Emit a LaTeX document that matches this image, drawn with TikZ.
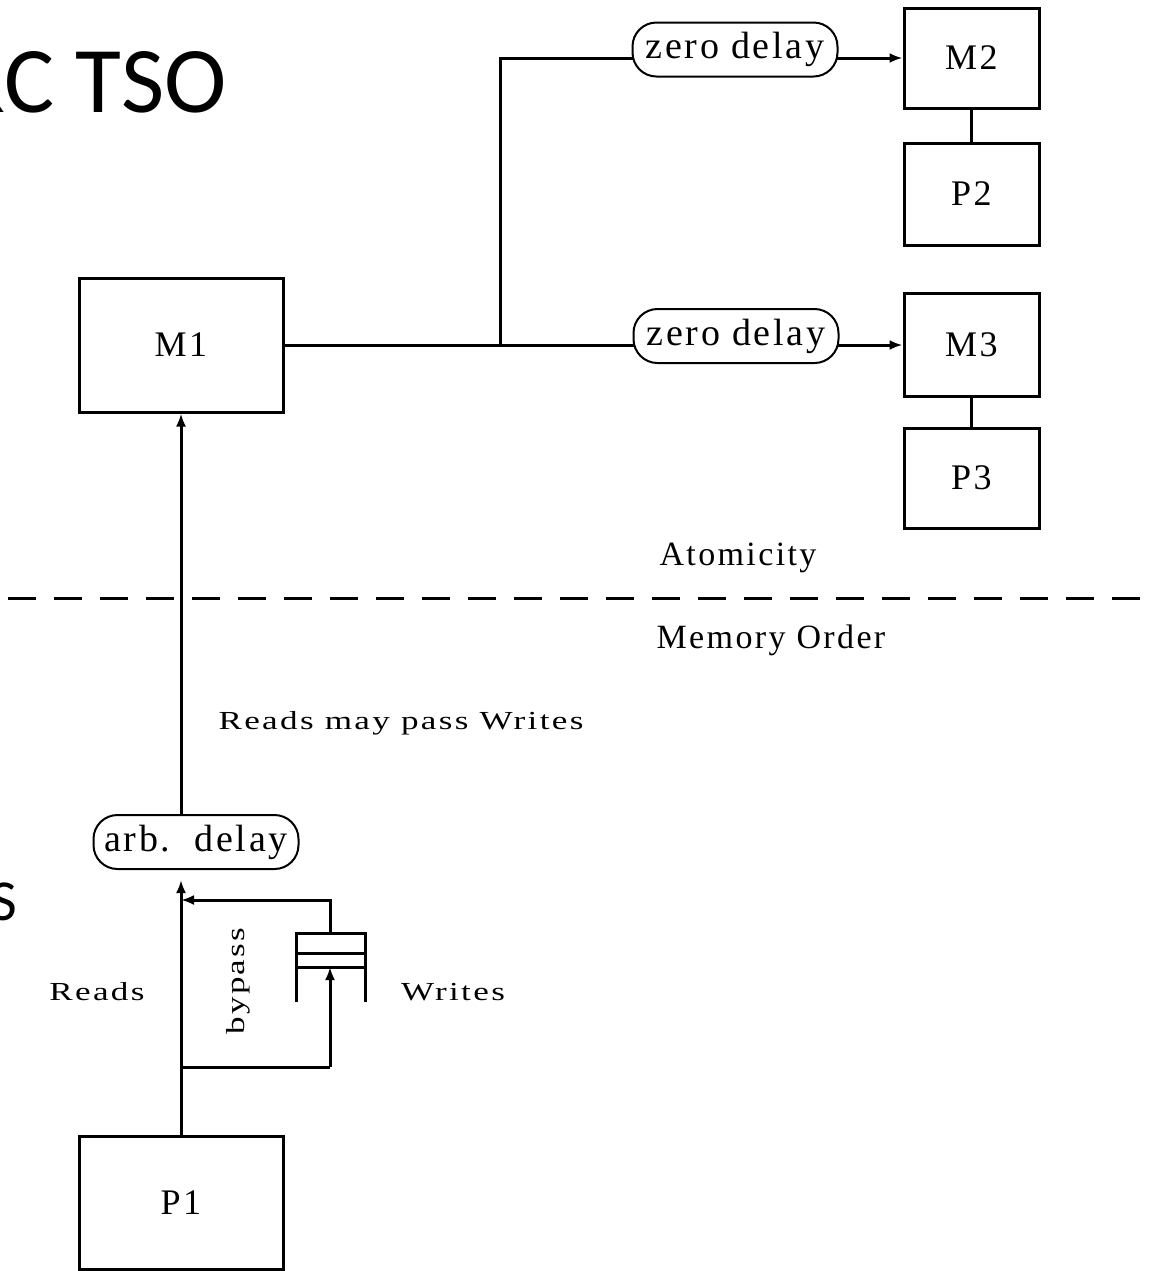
\documentclass[tikz,border=0pt]{standalone}
\usepackage{fontspec}
\setmainfont{Liberation Serif}
\newfontfamily\titlefont{Carlito}
\newfontfamily\smallfnt[FakeStretch=1.35,LetterSpace=9]{Liberation Serif}
\newfontfamily\bigfnt[LetterSpace=7]{Liberation Serif}
\usetikzlibrary{arrows.meta}
\tikzset{
  box/.style={draw, line width=1.5pt, inner sep=0pt, minimum width=#1,
    font=\bigfnt\fontsize{18}{20}\selectfont},
  pill/.style={draw, fill=white, line width=1pt, rounded corners=12pt,
    minimum width=102.5pt, minimum height=27pt, inner sep=0pt,
    font=\bigfnt\fontsize{19}{21}\selectfont},
  conn/.style={line width=1.5pt},
  arr/.style={line width=1.5pt, -{Latex[length=6.5pt,width=5pt]}},
  smalltxt/.style={font=\smallfnt\fontsize{13}{15}\selectfont, inner sep=0pt},
  bigtxt/.style={font=\bigfnt\fontsize{17}{19}\selectfont, inner sep=0pt},
}
\begin{document}
\begin{tikzpicture}[x=0.5pt,y=-0.5pt]
\useasboundingbox (0,0) rectangle (1154,1271);
\clip (0,0) rectangle (1154,1271);

% title fragments
\node[anchor=base east, inner sep=0pt, font=\titlefont\fontsize{47}{50}\selectfont] (title) at (227,112) {SPARC TSO};
\node[anchor=base east, inner sep=0pt, font=\titlefont\fontsize{29}{30}\selectfont] (sfrag) at (18,920) {S};

% boxes
\node[box=102pt, minimum height=67pt] (M1) at (181,345) {M1};
\node[box=67.5pt, minimum height=50pt] (M2) at (971.5,58) {M2};
\node[box=67.5pt, minimum height=51pt] (P2) at (971.5,194) {P2};
\node[box=67.5pt, minimum height=51.5pt] (M3) at (971.5,345) {M3};
\node[box=67.5pt, minimum height=50pt] (P3) at (971.5,478) {P3};
\node[box=102pt, minimum height=66.5pt] (P1) at (181,1202.5) {P1};

% connectors (drawn before the pills)
\coordinate (br) at (500,345);
\coordinate (brtop) at (500,58);
\draw[conn] (M1.east) -- (br);
\draw[arr] (br) -- (M1.east -| M3.west);
\draw[arr] (br) -- (brtop) -- (M2.west);
\draw[conn] (M2.south) -- (P2.north);
\draw[conn] (M3.south) -- (P3.north);

% pills
\node[pill] (zd1) at (735,49.5) {zero delay};
\node[pill] (zd2) at (736,336) {zero delay};
\node[pill] (arb) at (196,842) {arb.\ \ delay};

% main vertical path
\draw[arr, shorten >=5pt] (P1.north) -- (P1.north |- arb.south);
\draw[arr] (P1.north |- arb.north) -- (M1.south);

% write buffer
\coordinate (bufT) at (330,933);
\coordinate (bufB) at (330,967);
\draw[conn] (296,1002) -- (296,933) -- (365,933) -- (365,1002);
\draw[conn] (296,953) -- (365,953);
\draw[conn] (296,967) -- (365,967);

% bypass loop
\coordinate (loopL) at (181,1067);
\coordinate (loopR) at (330,1067);
\coordinate (topR) at (330,900);
\coordinate (topL) at (181,900);
\draw[conn] (loopL) -- (loopR);
\draw[arr] (loopR) -- (bufB);
\draw[arr] (bufT) -- (topR) -- (topL);

% dashed separator
\draw[line width=1.5pt, dash pattern=on 14pt off 9pt] (8,598) -- (1154,598);

% labels
\node[bigtxt, anchor=base] (atom) at (738,565) {Atomicity};
\node[bigtxt, anchor=base] (memo) at (771,648) {Memory Order};
\node[smalltxt, anchor=base] (rmpw) at (401,729) {Reads may pass Writes};
\node[smalltxt, anchor=base] (rd) at (97,1000) {Reads};
\node[smalltxt, anchor=base] (wr) at (453,1000) {Writes};
\node[smalltxt, rotate=90] (byp) at (238,981) {bypass};
\end{tikzpicture}
\end{document}
